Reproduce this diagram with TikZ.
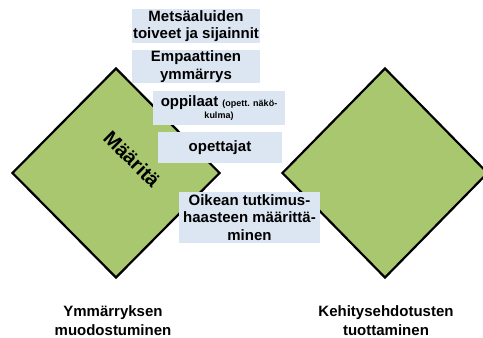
\documentclass[tikz,border=0pt]{standalone}
\usepackage{fontspec}
\setmainfont{Liberation Sans}
\usetikzlibrary{shapes.geometric}
\definecolor{leafgreen}{RGB}{169,199,110}
\definecolor{paleblue}{RGB}{220,230,242}
\tikzset{
  phase/.style={diamond, draw=black, fill=leafgreen, line width=2.2pt,
    line join=miter, inner sep=0pt, minimum height=210pt},
  notebox/.style={fill=paleblue, inner sep=0pt, align=center,
    font=\bfseries\fontsize{15}{17.5}\selectfont},
  caption/.style={align=center, font=\bfseries\fontsize{15}{19}\selectfont},
}
\newcommand{\smallnote}[1]{{\fontsize{9}{10}\selectfont #1}}
\begin{document}
\begin{tikzpicture}[x=1pt,y=-1pt]
\useasboundingbox (0,0) rectangle (483,338);

% the two phases
\node[phase, minimum width=208pt] (left) at (116,173) {};
\node[phase, minimum width=206pt] (right) at (385,173) {};
\node[rotate=-45, font=\bfseries\fontsize{20}{22}\selectfont] (define) at (132,159) {Määritä};

% notes placed over the first phase
\node[notebox, minimum width=128pt, minimum height=34pt] (wishes) at (196,26)
  {Metsäaluiden\\toiveet ja sijainnit};
\node[notebox, minimum width=128pt, minimum height=33pt] (empathy) at (196,66.5)
  {Empaattinen\\ymmärrys};
\node[notebox, minimum width=132pt, minimum height=34pt] (pupils) at (219,108)
  {oppilaat \smallnote{(opett. näkö-}\\[-6pt]\smallnote{kulma)}};
\node[notebox, minimum width=124pt, minimum height=31pt] (teachers) at (220,147.5)
  {opettajat};
\node[notebox, minimum width=141pt, minimum height=51pt] (challenge) at (249.5,217.5)
  {Oikean tutkimus-\\haasteen määrittä-\\minen};

% phase captions
\node[caption] (understand) at (113,320.5) {Ymmärryksen\\muodostuminen};
\node[caption] (develop) at (386,320.5) {Kehitysehdotusten\\tuottaminen};
\end{tikzpicture}
\end{document}
